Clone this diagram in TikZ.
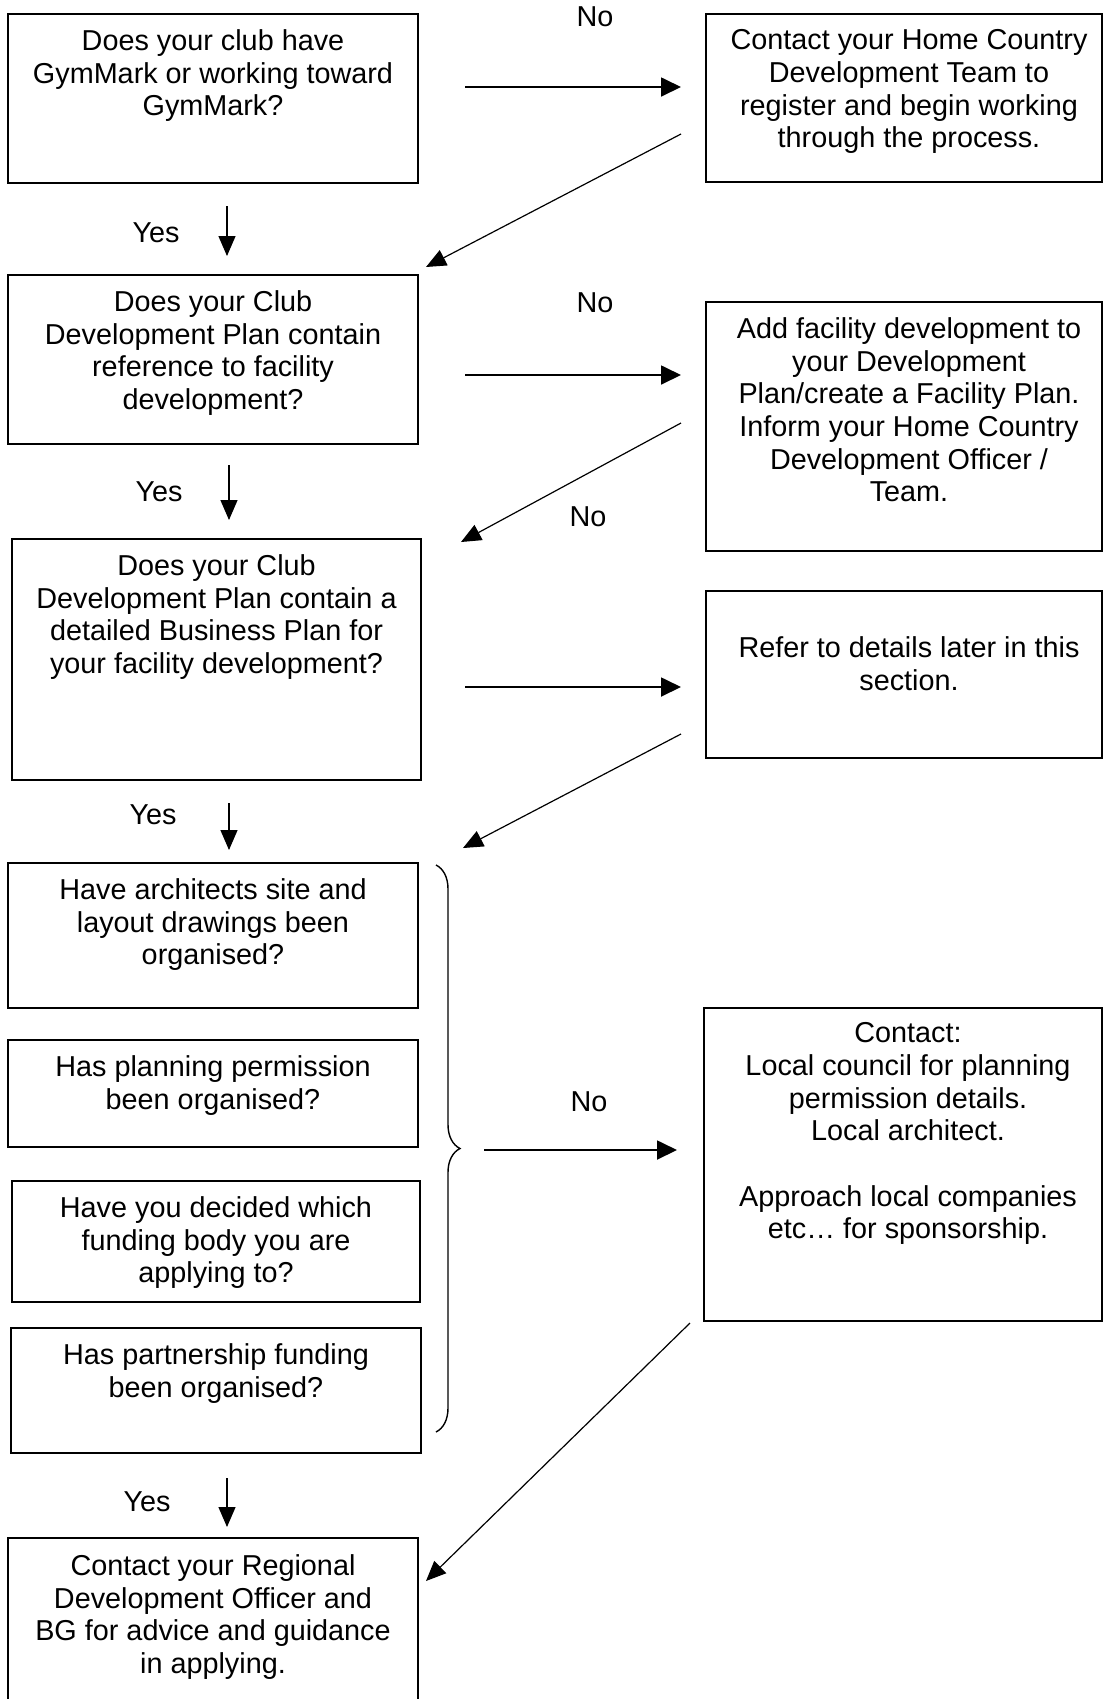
\documentclass[tikz,border=0pt]{standalone}
\usepackage{fontspec}
\setmainfont{Liberation Sans}
\usetikzlibrary{calc,fit,arrows.meta,decorations.pathreplacing}

\begin{document}
\begin{tikzpicture}[x=0.5pt,y=-0.5pt]
  \tikzstyle{qbox}=[draw, line width=0.9pt, inner sep=0pt]
  \tikzstyle{qtxt}=[anchor=north, align=center, inner sep=0pt, font=\fontsize{14.4}{16.35}\selectfont]
  \tikzstyle{lbl}=[inner sep=0pt, font=\fontsize{14.4}{16.35}\selectfont]
  \tikzstyle{noarr}=[line width=0.9pt, -{Triangle[length=10pt,width=9.5pt]}]
  \tikzstyle{thinarr}=[line width=0.6pt, -{Triangle[length=10pt,width=8.5pt]}]
  \path[use as bounding box, fill=white] (0,0) rectangle (1104,1699);

  % question column
  \node[qbox, fit={(8,14) (418,183)}] (q1) {};
  \node[qbox, fit={(8,275) (418,444)}] (q2) {};
  \node[qbox, fit={(12,539) (421,780)}] (q3) {};
  \node[qbox, fit={(8,863) (418,1008)}] (q4a) {};
  \node[qbox, fit={(8,1040) (418,1147)}] (q4b) {};
  \node[qbox, fit={(12,1181) (420,1302)}] (q4c) {};
  \node[qbox, fit={(11,1328) (421,1453)}] (q4d) {};
  \node[qbox, fit={(8,1538) (418,1720)}] (q5) {};

  \node[qtxt] (q1t) at ($(q1.north)+(0,16)$) {Does your club have\\GymMark or working toward\\GymMark?};
  \node[qtxt] (q2t) at ($(q2.north)+(0,16)$) {Does your Club\\Development Plan contain\\reference to facility\\development?};
  \node[qtxt] (q3t) at ($(q3.north)+(0,16)$) {Does your Club\\Development Plan contain a\\detailed Business Plan for\\your facility development?};
  \node[qtxt] (q4at) at ($(q4a.north)+(0,16)$) {Have architects site and\\layout drawings been\\organised?};
  \node[qtxt] (q4bt) at ($(q4b.north)+(0,16)$) {Has planning permission\\been organised?};
  \node[qtxt] (q4ct) at ($(q4c.north)+(0,16)$) {Have you decided which\\funding body you are\\applying to?};
  \node[qtxt] (q4dt) at ($(q4d.north)+(0,16)$) {Has partnership funding\\been organised?};
  \node[qtxt] (q5t) at ($(q5.north)+(0,17)$) {Contact your Regional\\Development Officer and\\BG for advice and guidance\\in applying.};

  % action column
  \node[qbox, fit={(706,14) (1102,182)}] (r1) {};
  \node[qbox, fit={(706,302) (1102,551)}] (r2) {};
  \node[qbox, fit={(706,591) (1102,758)}] (r3) {};
  \node[qbox, fit={(704,1008) (1102,1321)}] (r4) {};

  \node[qtxt] (r1t) at ($(r1.north)+(5,16)$) {Contact your Home Country\\Development Team to\\register and begin working\\through the process.};
  \node[qtxt] (r2t) at ($(r2.north)+(5,16)$) {Add facility development to\\your Development\\Plan/create a Facility Plan.\\Inform your Home Country\\Development Officer /\\Team.};
  \node[qtxt] (r3t) at ($(r3.north)+(5,46)$) {Refer to details later in this\\section.};
  \node[qtxt] (r4t) at ($(r4.north)+(5,15)$) {Contact:\\Local council for planning\\permission details.\\Local architect.\\[16.35pt]Approach local companies\\etc… for sponsorship.};

  % brace round the four questions
  \draw[line width=0.7pt, decorate, decoration={brace, amplitude=12pt}] (436,865) -- (436,1432);

  % labels
  \foreach \n/\x/\y/\t in {no1/595/17/No, no2/595/303/No, no3/588/517/No, no4/589/1102/No,
                           yes1/156/233/Yes, yes2/159/492/Yes, yes3/153/815/Yes, yes4/147/1502/Yes}
    \node[lbl] (\n) at (\x,\y) {\t};

  % No arrows
  \foreach \i/\xa/\xb/\y in {1/465/681/87, 2/465/681/375, 3/465/681/687, 4/484/677/1150}{
    \coordinate (hs\i) at (\xa,\y);
    \coordinate (he\i) at (\xb,\y);
    \draw[noarr] (hs\i) -- (he\i);
  }

  % Yes arrows
  \foreach \i/\x/\ya/\yb in {1/227/206/256, 2/229/465/520, 3/229/803/850, 4/227/1478/1527}{
    \coordinate (vs\i) at (\x,\ya);
    \coordinate (ve\i) at (\x,\yb);
    \draw[thinarr] (vs\i) -- (ve\i);
  }

  % back arrows
  \foreach \i/\xa/\ya/\xb/\yb in {1/681/134/426/267, 2/681/423/461/542, 3/681/734/463/848, 4/690/1323/426/1581}{
    \coordinate (ds\i) at (\xa,\ya);
    \coordinate (de\i) at (\xb,\yb);
    \draw[thinarr] (ds\i) -- (de\i);
  }
\end{tikzpicture}
\end{document}
